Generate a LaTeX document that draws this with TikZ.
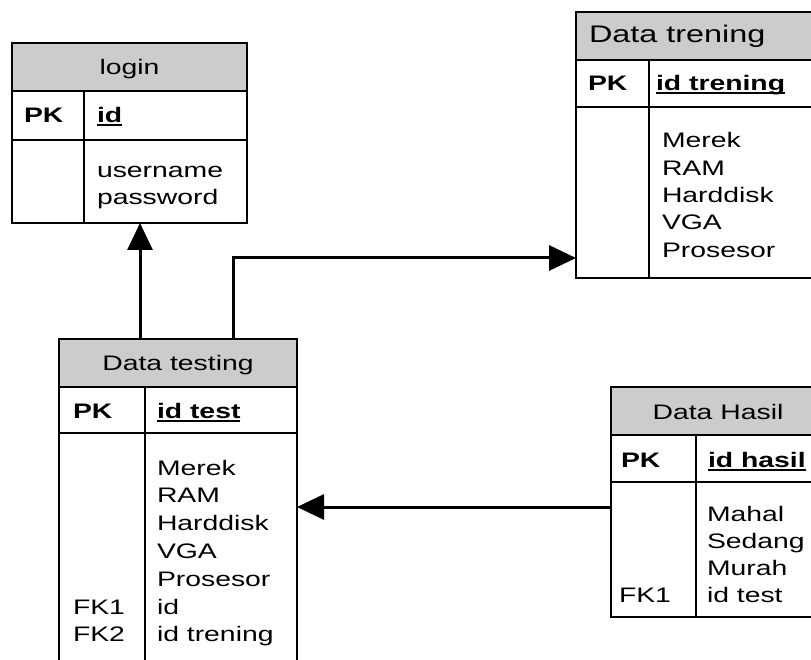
\documentclass[tikz,border=0pt]{standalone}
\usepackage{fontspec}
\setmainfont[FakeStretch=1.35]{Liberation Sans}
\usetikzlibrary{arrows.meta}
\newcommand\ulbox[1]{\setbox0\hbox{#1}\rlap{\rule[-3.5pt]{\wd0}{2pt}}\box0}
\newcommand\fieldcol[1]{\begin{tabular}[t]{@{}l@{}}#1\end{tabular}}
\begin{document}
\begin{tikzpicture}[x=1pt,y=-1pt,
  part/.style={draw,line width=2pt,inner sep=0pt,outer sep=0pt,anchor=north west},
  head/.style={part,fill=black!20},
  txt/.style={inner sep=0pt,outer sep=0pt,font=\fontsize{21}{27}\selectfont},
  divider/.style={line width=2pt},
  conn/.style={line width=3pt,-{Triangle[width=25pt,length=27pt]}}]
\clip (0,0) rectangle (811,660);
\fill[white] (0,0) rectangle (811,660);

% ---------- login ----------
\node[head,minimum width=235pt,minimum height=48pt] (loginH) at (12,43) {};
\node[part,minimum width=235pt,minimum height=49pt] (loginP) at (12,91) {};
\node[part,minimum width=235pt,minimum height=83pt] (loginB) at (12,140) {};
\draw[divider] ([xshift=72pt]loginP.north west) -- ([xshift=72pt]loginB.south west);
\node[txt,anchor=base] (loginT) at (129.5,74.5) {login};
\node[txt,anchor=base west] (loginPK) at (24,123) {\bfseries PK};
\node[txt,anchor=base west] (loginId) at (97,123) {\bfseries\ulbox{id}};
\node[txt,anchor=base west] (loginF) at (97,178) {\fieldcol{username\\password}};

% ---------- Data trening ----------
\node[head,minimum width=254pt,minimum height=48pt] (trainH) at (576,12) {};
\node[part,minimum width=254pt,minimum height=47pt] (trainP) at (576,60) {};
\node[part,minimum width=254pt,minimum height=171pt] (trainB) at (576,107) {};
\draw[divider] ([xshift=73pt]trainP.north west) -- ([xshift=73pt]trainB.south west);
\node[txt,anchor=base west,font=\fontsize{24}{27}\selectfont] (trainT) at (589,43) {Data trening};
\node[txt,anchor=base west] (trainPK) at (588,91) {\bfseries PK};
\node[txt,anchor=base west] (trainId) at (656,91) {\bfseries\ulbox{id trening}};
\node[txt,anchor=base west,font=\fontsize{21}{27.3}\selectfont] (trainF) at (662,148)
  {\fieldcol{Merek\\RAM\\Harddisk\\VGA\\Prosesor}};

% ---------- Data testing ----------
\node[head,minimum width=238pt,minimum height=48pt] (testH) at (59,339) {};
\node[part,minimum width=238pt,minimum height=46pt] (testP) at (59,387) {};
\node[part,minimum width=238pt,minimum height=257pt] (testB) at (59,433) {};
\draw[divider] ([xshift=86pt]testP.north west) -- ([xshift=86pt]testB.south west);
\node[txt,anchor=base] (testT) at (178,370.5) {Data testing};
\node[txt,anchor=base west] (testPK) at (73,418) {\bfseries PK};
\node[txt,anchor=base west] (testId) at (157,418) {\bfseries\ulbox{id test}};
\node[txt,anchor=base west,font=\fontsize{21}{27.8}\selectfont] (testF) at (157,475)
  {\fieldcol{Merek\\RAM\\Harddisk\\VGA\\Prosesor\\id\\id trening}};
\node[txt,anchor=base west,font=\fontsize{21}{27.8}\selectfont] (testFK) at (73,614)
  {\fieldcol{FK1\\FK2}};

% ---------- Data Hasil ----------
\node[head,minimum width=214pt,minimum height=48pt] (hasilH) at (611,387) {};
\node[part,minimum width=214pt,minimum height=47pt] (hasilP) at (611,435) {};
\node[part,minimum width=214pt,minimum height=135pt] (hasilB) at (611,482) {};
\draw[divider] ([xshift=85pt]hasilP.north west) -- ([xshift=85pt]hasilB.south west);
\node[txt,anchor=base] (hasilT) at (718,419) {Data Hasil};
\node[txt,anchor=base west] (hasilPK) at (621,467) {\bfseries PK};
\node[txt,anchor=base west] (hasilId) at (708,467) {\bfseries\ulbox{id hasil}};
\node[txt,anchor=base west] (hasilF) at (707,521)
  {\fieldcol{Mahal\\Sedang\\Murah\\id test}};
\node[txt,anchor=base west] (hasilFK) at (619,602) {FK1};

% ---------- connectors ----------
\draw[conn] ([xshift=81pt]testH.north west) -- ([xshift=81pt]testH.north west |- loginB.south);
\draw[conn] ([xshift=174pt]testH.north west) |- ([yshift=20pt]trainB.south west);
\draw[conn] ([yshift=-25pt]hasilB.north west) -- ([yshift=-25pt]hasilB.north west -| testB.east);
\end{tikzpicture}
\end{document}
